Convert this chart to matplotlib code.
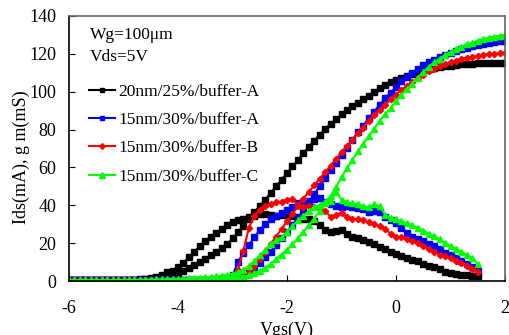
import numpy as np
import matplotlib
matplotlib.use("Agg")
import matplotlib.pyplot as plt

plt.rcParams["font.family"] = ["Liberation Serif", "DejaVu Serif"]
plt.rcParams["axes.unicode_minus"] = False

# Vgs 扫描: -6V ~ 2V, 步长 0.1V (gm 只到 1.5V)
vgs = np.linspace(-6, 2, 81)
vgs_gm = vgs[:76]

labels = ["20nm/25%/buffer-A", "15nm/30%/buffer-A", "15nm/30%/buffer-B", "15nm/30%/buffer-C"]

# Ids (mA)
ids_20a = [0.3, 0.3, 0.3, 0.3, 0.4, 0.4, 0.4, 0.4, 0.5, 0.5,
           0.5, 0.6, 0.6, 0.7, 0.8, 1.0, 1.3, 1.7, 2.0, 2.6,
           4.0, 5.3, 6.8, 8.3, 10.0, 11.8, 13.5, 15.3, 17.2, 19.5,
           22.5, 25.8, 29.2, 32.8, 36.2, 39.5, 43.0, 46.5, 50.0, 53.5,
           57.0, 60.5, 64.0, 67.5, 71.0, 74.2, 77.3, 80.3, 83.0, 85.5,
           88.0, 90.3, 92.3, 94.2, 96.0, 98.0, 100.0, 101.8, 103.5, 105.0,
           106.3, 107.4, 108.5, 109.4, 110.3, 111.0, 111.8, 112.4, 113.0, 113.4,
           113.8, 114.1, 114.4, 114.6, 114.8, 115.0, 115.0, 115.1, 115.2, 115.2,
           115.3]
ids_15a = [0.3] * 20 + \
          [0.3, 0.3, 0.3, 0.3, 0.3, 0.3, 0.3, 0.4, 0.4, 0.5,
           0.6, 1.2, 2.3, 4.5, 7.0, 9.5, 12.5, 15.5, 19.0, 22.5,
           26.0, 29.5, 33.5, 37.5, 41.5, 46.0, 50.0, 54.5, 58.5, 62.5,
           66.5, 70.5, 74.5, 78.5, 82.0, 86.0, 89.5, 93.0, 96.5, 99.5,
           102.5, 105.5, 108.0, 110.0, 112.0, 114.0, 115.5, 117.0, 118.3, 119.5,
           120.6, 121.6, 122.5, 123.3, 124.0, 124.7, 125.3, 125.8, 126.3, 126.7,
           127.0]
ids_15b = [0.3] * 30 + \
          [0.4, 0.8, 1.8, 4.5, 8.0, 11.5, 15.5, 19.5, 23.5, 27.5,
           31.5, 35.5, 39.5, 43.5, 47.0, 50.5, 54.0, 57.5, 61.0, 64.5,
           68.0, 71.5, 74.5, 78.0, 81.0, 84.5, 87.5, 90.5, 93.0, 96.0,
           98.5, 101.0, 103.0, 105.0, 107.0, 109.0, 110.7, 112.2, 113.5, 114.6,
           115.5, 116.4, 117.2, 117.9, 118.5, 119.0, 119.4, 119.8, 120.1, 120.4,
           120.6]
ids_15c = [0.4] * 10 + \
          [0.4, 0.4, 0.4, 0.4, 0.4, 0.4, 0.4, 0.5, 0.5, 0.5,
           0.5, 0.5, 0.5, 0.5, 0.5, 0.5, 0.6, 0.6, 0.6, 0.7,
           1.0, 1.5, 2.2, 3.0, 4.0, 5.5, 7.0, 9.0, 11.5, 14.0,
           16.5, 19.5, 22.5, 26.0, 29.5, 33.0, 37.0, 41.0, 45.0, 49.5,
           55.0, 59.5, 64.0, 68.5, 72.5, 76.5, 80.5, 84.5, 88.0, 91.5,
           95.0, 98.5, 101.5, 104.3, 107.5, 110.5, 113.0, 115.5, 117.5, 119.3,
           121.0, 122.5, 123.8, 125.0, 126.0, 127.0, 127.8, 128.5, 129.1, 129.6,
           130.0]

# gm (mS)
gm_20a = [0.3, 0.3, 0.3, 0.3, 0.4, 0.4, 0.4, 0.5, 0.5, 0.5,
          0.6, 0.6, 0.7, 0.8, 1.0, 1.5, 2.2, 3.0, 4.5, 5.5,
          7.5, 9.5, 12.5, 15.5, 18.5, 21.0, 23.5, 25.5, 27.5, 29.5,
          31.0, 32.0, 33.0, 34.0, 34.5, 35.5, 35.5, 35.0, 34.5, 35.0,
          35.0, 34.5, 34.0, 33.0, 33.0, 31.5, 29.5, 27.0, 26.0, 26.5,
          27.0, 25.0, 23.5, 22.5, 21.5, 20.5, 19.5, 18.0, 17.0, 15.5,
          14.5, 13.0, 12.0, 11.0, 10.5, 9.0, 8.0, 7.5, 6.5, 5.0,
          4.2, 3.5, 3.2, 3.0, 2.8, 2.6]
gm_15a = [0.3] * 10 + \
         [0.3, 0.3, 0.3, 0.3, 0.3, 0.3, 0.4, 0.4, 0.4, 0.4,
          0.4, 0.5, 0.5, 0.5, 0.6, 0.6, 0.7, 0.9, 1.2, 1.8,
          3.0, 10.0, 15.0, 19.0, 23.0, 27.0, 30.0, 32.5, 34.5, 36.0,
          37.5, 39.0, 41.0, 42.0, 42.5, 43.5, 44.0, 42.0, 40.5, 39.5,
          39.0, 39.5, 39.0, 38.5, 38.0, 36.5, 37.0, 36.5, 34.0, 32.0,
          30.5, 28.0, 25.5, 23.5, 22.0, 21.0, 19.5, 18.5, 17.0, 15.0,
          13.5, 12.0, 10.5, 9.0, 7.5, 5.5]
gm_15b = [0.3] * 20 + \
         [0.3, 0.3, 0.3, 0.4, 0.4, 0.4, 0.5, 0.5, 0.6, 0.7,
          1.0, 6.0, 16.0, 28.0, 34.5, 37.5, 39.5, 40.5, 41.5, 42.0,
          43.0, 43.5, 40.0, 39.0, 39.5, 39.0, 38.5, 37.0, 34.0, 35.0,
          36.0, 34.0, 33.0, 32.5, 32.0, 31.0, 30.0, 29.0, 27.5, 25.0,
          23.5, 23.0, 22.0, 21.0, 20.0, 18.5, 17.0, 15.5, 14.0, 13.0,
          12.0, 10.5, 9.5, 8.0, 6.5, 5.0]
gm_15c = [0.4] * 10 + \
         [0.5, 0.5, 0.6, 0.6, 0.7, 0.7, 0.8, 0.9, 1.0, 1.1,
          1.2, 1.3, 1.5, 1.6, 1.8, 2.0, 2.2, 2.5, 2.8, 3.2,
          3.8, 4.5, 6.0, 8.0, 10.5, 13.5, 16.5, 19.5, 21.5, 23.0,
          26.0, 29.0, 32.0, 34.5, 37.0, 39.0, 40.0, 42.0, 42.5, 47.0,
          43.0, 41.5, 41.0, 40.5, 39.5, 39.0, 40.5, 39.5, 35.0, 33.5,
          32.5, 31.5, 30.5, 29.5, 28.0, 26.5, 25.0, 24.0, 22.0, 20.0,
          18.5, 17.0, 15.5, 14.0, 12.0, 9.0]

ids_all = [ids_20a, ids_15a, ids_15b, ids_15c]
gm_all = [gm_20a, gm_15a, gm_15b, gm_15c]
colors = ["#000000", "#0000ff", "#ff0000", "#00ff00"]
markers = ["s", "s", "D", "^"]
msizes = [3.8, 3.8, 3.2, 4.2]

fig = plt.figure(figsize=(5.09, 3.35), dpi=100)
ax = fig.add_axes([69 / 509, 1 - 281 / 335, 436 / 509, 265 / 335])

for ids, gm, c, m, ms, lab in zip(ids_all, gm_all, colors, markers, msizes, labels):
    ax.plot(vgs, ids, color=c, marker=m, ms=ms, lw=1.5, mec=c, label=lab)
    ax.plot(vgs_gm, gm, color=c, marker=m, ms=ms, lw=1.5, mec=c)

ax.set_xlim(-6, 2)
ax.set_ylim(0, 140)
ax.set_xticks([-6, -4, -2, 0, 2])
ax.set_yticks(np.arange(0, 141, 20))
ax.tick_params(axis="x", direction="in", length=4, pad=14, labelsize=13, top=False)
ax.tick_params(axis="y", direction="in", length=4, pad=9, labelsize=13, right=False)

for side in ["left", "bottom"]:
    ax.spines[side].set_color("black")
    ax.spines[side].set_linewidth(1.2)
for side in ["top", "right"]:
    ax.spines[side].set_color("#666666")
    ax.spines[side].set_linewidth(1.2)

ax.set_xlabel("Vgs(V)", fontsize=13)
ax.set_ylabel("Ids(mA), g m(mS)", fontsize=13)
ax.xaxis.set_label_coords(0.5, -0.155)
ax.yaxis.set_label_coords(-0.09, 0.468)

ax.text(0.048, 0.96, "Wg=100μm", transform=ax.transAxes, fontsize=12.5, va="top")
ax.text(0.048, 0.875, "Vds=5V", transform=ax.transAxes, fontsize=12.5, va="top")

ax.legend(loc="upper left", bbox_to_anchor=(0.046, 0.745), frameon=False,
          fontsize=12.5, borderpad=0, borderaxespad=0, labelspacing=0.7,
          handlelength=1.5, handletextpad=0.2, markerscale=0.9)

plt.savefig("out.png", dpi=100)
